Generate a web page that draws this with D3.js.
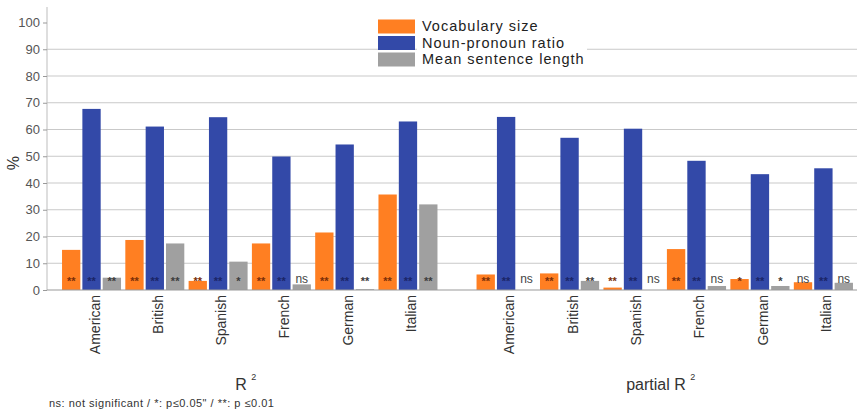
<!DOCTYPE html>
<html>
<head>
<meta charset="utf-8">
<script src="https://cdn.jsdelivr.net/npm/d3@7"></script>
<style>
  body { margin: 0; background: #fff; }
  svg { display: block; font-family: "Liberation Sans", Arial, sans-serif; }
</style>
</head>
<body>
<svg id="chart" width="864" height="414"></svg>
<script>
// ---- data ----
const categories = ["American", "British", "Spanish", "French", "German", "Italian"];
const panels = ["R", "partial R"];
const seriesNames = ["Vocabulary size", "Noun-pronoun ratio", "Mean sentence length"];
const seriesColors = ["#FF7F22", "#3349A8", "#A0A0A0"];
const sigColors = ["#7a2e08", "#1a2466", "#3c3c3c"];

const vocabR2 = [15.0, 18.7, 3.4, 17.4, 21.5, 35.7];
const nounR2 = [67.7, 61.1, 64.6, 49.9, 54.4, 63.0];
const mslR2 = [4.6, 17.4, 10.6, 2.1, 0.3, 32.0];
const vocabPartial = [5.8, 6.2, 0.9, 15.3, 4.1, 2.9];
const nounPartial = [64.7, 56.9, 60.3, 48.3, 43.3, 45.5];
const mslPartial = [0.0, 3.4, 0.0, 1.5, 1.5, 2.7];

const sigVocabR2 = ["**", "**", "**", "**", "**", "**"];
const sigNounR2 = ["**", "**", "**", "**", "**", "**"];
const sigMslR2 = ["**", "**", "*", "ns", "**", "**"];
const sigVocabPartial = ["**", "**", "**", "**", "*", "ns"];
const sigNounPartial = ["**", "**", "**", "**", "**", "**"];
const sigMslPartial = ["ns", "**", "ns", "ns", "*", "ns"];

const yTicks = [0, 10, 20, 30, 40, 50, 60, 70, 80, 90, 100];
const yLabel = "%";
const footnote = "ns: not significant / *: p\u22640.05\" / **: p \u22640.01";

// ---- build ----
const panelData = [
  { name: panels[0], values: [vocabR2, nounR2, mslR2], sig: [sigVocabR2, sigNounR2, sigMslR2], range: [59.5, 440] },
  { name: panels[1], values: [vocabPartial, nounPartial, mslPartial], sig: [sigVocabPartial, sigNounPartial, sigMslPartial], range: [474, 855.5] }
];

const svg = d3.select("#chart");
const y = d3.scaleLinear().domain([0, 100]).range([290, 22.5]);
const plotLeft = 47, plotRight = 857;

// gridlines (skip 0 and 100)
svg.append("g").selectAll("line").data(yTicks.filter(t => t > 0 && t < 100)).join("line")
  .attr("x1", plotLeft).attr("x2", plotRight)
  .attr("y1", d => y(d)).attr("y2", d => y(d))
  .attr("stroke", "#c9c9c9").attr("stroke-width", 1);

// y axis
const yAxis = d3.axisLeft(y).tickValues(yTicks).tickSize(4).tickPadding(3);
const gy = svg.append("g").attr("transform", `translate(${plotLeft},0)`).call(yAxis);
gy.select(".domain").attr("stroke", "#bdbdbd").attr("d", `M-0,${y(0)}V7`);
gy.selectAll(".tick line").attr("stroke", "#999");
gy.selectAll(".tick text").attr("fill", "#555").style("font-size", "13px")
  .style("font-family", "'Liberation Sans', Arial, sans-serif");

svg.append("text").attr("transform", `translate(19,${y(50) + 7}) rotate(-90)`)
  .attr("text-anchor", "middle").attr("fill", "#333").style("font-size", "16px")
  .text(yLabel);

// bars
panelData.forEach((p) => {
  const x0 = d3.scaleBand().domain(categories).range(p.range).paddingInner(0.068).paddingOuter(0.04);
  const x1 = d3.scaleBand().domain(d3.range(seriesNames.length)).range([0, x0.bandwidth()]).paddingInner(0.1);
  const g = svg.append("g");
  categories.forEach((c, ci) => {
    const cg = g.append("g").attr("transform", `translate(${x0(c)},0)`);
    seriesNames.forEach((s, si) => {
      const v = p.values[si][ci];
      cg.append("rect")
        .attr("x", x1(si)).attr("width", x1.bandwidth())
        .attr("y", y(v)).attr("height", y(0) - y(v))
        .attr("fill", seriesColors[si]);
      const lab = p.sig[si][ci];
      cg.append("text")
        .attr("x", x1(si) + x1.bandwidth() / 2)
        .attr("y", lab === "ns" ? y(0) - 7 : y(0) - 5)
        .attr("text-anchor", "middle")
        .attr("fill", lab === "ns" ? "#444" : sigColors[si])
        .style("font-size", lab === "ns" ? "12px" : "11px")
        .style("font-weight", lab === "ns" ? "normal" : "bold")
        .text(lab);
    });
    // category label
    svg.append("text")
      .attr("transform", `translate(${x0(c) + x0.bandwidth() / 2 + 8},${y(0) + 5}) rotate(-90)`)
      .attr("text-anchor", "end").attr("fill", "#333").style("font-size", "14px")
      .text(c);
  });
  // panel title with superscript
  const cx = (p.range[0] + p.range[1]) / 2;
  const t = svg.append("text").attr("x", cx - 4).attr("y", 390)
    .attr("text-anchor", "middle").attr("fill", "#333").style("font-size", "16px");
  t.append("tspan").text(p.name + " ");
  t.append("tspan").attr("dy", -10).style("font-size", "9px").text("2");
});

// baseline
svg.append("line").attr("x1", plotLeft).attr("x2", plotRight)
  .attr("y1", y(0)).attr("y2", y(0)).attr("stroke", "#9a9a9a").attr("stroke-width", 1.2);

// legend
const leg = svg.append("g");
leg.append("rect").attr("x", 417).attr("y", 18).attr("width", 170).attr("height", 50).attr("fill", "#fff");
seriesNames.forEach((s, i) => {
  leg.append("rect").attr("x", 378).attr("y", 19.5 + i * 16.5).attr("width", 37).attr("height", 14)
    .attr("fill", seriesColors[i]);
  leg.append("text").attr("x", 422).attr("y", 31 + i * 16.5).attr("fill", "#222")
    .style("font-size", "14.5px").style("letter-spacing", "1px").text(s);
});

// footnote
svg.append("text").attr("x", 49).attr("y", 407).attr("fill", "#333")
  .style("font-size", "11px").style("letter-spacing", "0.5px").text(footnote);
</script>
</body>
</html>
